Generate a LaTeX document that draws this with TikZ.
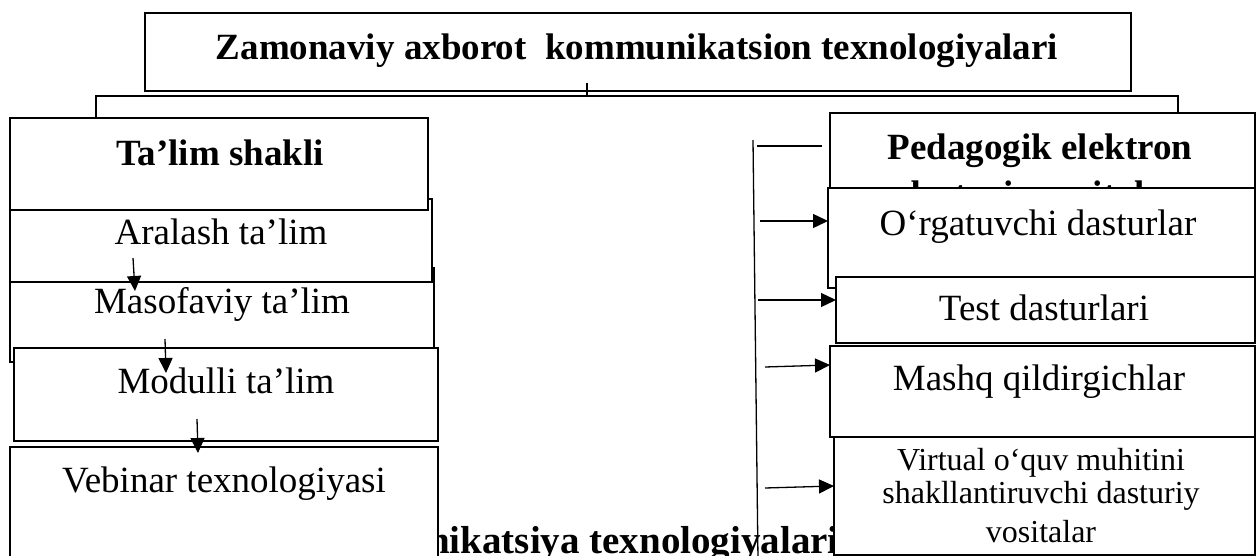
\documentclass[tikz,border=0pt]{standalone}
\usepackage{fontspec}
\setmainfont{Liberation Serif}
\usetikzlibrary{arrows.meta,calc}
\begin{document}
\begin{tikzpicture}[x=1pt,y=-1pt,
  box/.style={draw, fill=white, line width=1.6pt, rectangle, inner sep=0pt, outer sep=0pt, anchor=north west},
  big/.style={font=\fontsize{37}{44}\selectfont, inner sep=0pt, anchor=base},
  bigb/.style={font=\fontsize{37}{44}\selectfont\bfseries, inner sep=0pt, anchor=base},
  small/.style={font=\fontsize{32}{36}\selectfont, inner sep=0pt, anchor=base},
  conn/.style={line width=1.3pt},
  arr/.style={line width=1.3pt, -{Triangle[length=15pt,width=14pt]}}]
\useasboundingbox (0,0) rectangle (1257,556);
\clip (0,0) rectangle (1257,556);

% hidden background caption
\node[font=\fontsize{39}{44}\selectfont\bfseries, inner sep=0pt, anchor=base west] (bt) at (428,553) {nikatsiya texnologiyalari};

% top box
\node[box, minimum width=986pt, minimum height=78pt] (top) at (145,13) {};
\node[bigb] (toptxt) at (637,60) {Zamonaviy axborot~ kommunikatsion texnologiyalari};
\coordinate (L) at (96,96);
\coordinate (R) at (1178,96);
\coordinate (T0) at (587,83);
\coordinate (T) at (587,96);

% left stack
\node[box, minimum width=424pt, minimum height=94pt] (maso) at (10,268) {};
\node[big] (masotxt) at (222,313) {Masofaviy ta’lim};
\node[box, minimum width=422pt, minimum height=83pt] (aral) at (10,199) {};
\node[big] (araltxt) at (221,244) {Aralash ta’lim};
\node[box, minimum width=418pt, minimum height=92pt] (tal) at (10,118) {};
\node[bigb] (taltxt) at (220,166) {Ta’lim shakli};
\node[box, minimum width=424pt, minimum height=93pt] (modu) at (14,348) {};
\node[big] (modutxt) at (226,393) {Modulli ta’lim};
\node[box, minimum width=428pt, minimum height=130pt] (vebi) at (10,447) {};
\node[big] (vebitxt) at (224,492) {Vebinar texnologiyasi};

\coordinate (a1s) at (133,258); \coordinate (a1e) at (135,291);
\coordinate (a2s) at (165,339); \coordinate (a2e) at (166,373);
\coordinate (a3s) at (197,419); \coordinate (a3e) at (198,453);
\draw[arr] (a1s) -- (a1e);
\draw[arr] (a2s) -- (a2e);
\draw[arr] (a3s) -- (a3e);

% right stack
\node[box, minimum width=425pt, minimum height=140pt] (ped) at (830,113) {};
\node[bigb] (pedtxt1) at (1040,160) {Pedagogik elektron};
\node[bigb] (pedtxt2) at (1040,207) {dasturiy vositalar};
\node[box, minimum width=427pt, minimum height=100pt] (ort) at (828,188) {};
\node[big] (orttxt) at (1038,235) {O‘rgatuvchi dasturlar};
\node[box, minimum width=419pt, minimum height=66pt] (test) at (836,277) {};
\node[big] (testtxt) at (1044,320) {Test dasturlari};
\node[box, minimum width=421pt, minimum height=118pt] (virt) at (834,437) {};
\node[small] (v1) at (1041,470) {Virtual o‘quv muhitini};
\node[small] (v2) at (1041,503) {shakllantiruvchi dasturiy};
\node[small] (v3) at (1041,542) {vositalar};
\node[box, minimum width=425pt, minimum height=91pt] (mash) at (830,346) {};
\node[big] (mashtxt) at (1039,390) {Mashq qildirgichlar};

% connectors
\draw[conn] (tal.north west -| L) -- (L) -- (R) -- (ped.north west -| R);
\draw[conn] (T0) -- (T);
\coordinate (V0) at (753,140); \coordinate (V1) at (758,560);
\draw[conn] (V0) -- (V1);
\coordinate (h0) at (757,146); \coordinate (h1) at (822,146);
\draw[conn] (h0) -- (h1);
\coordinate (r1) at (760,221);
\coordinate (r2) at (758,300);
\coordinate (r3) at (765,367);
\coordinate (r4) at (765,488);
\draw[arr] (r1) -- (r1 -| ort.west);
\draw[arr] (r2) -- (r2 -| test.west);
\draw[arr] (r3) -- ([yshift=2pt]r3 -| mash.west);
\draw[arr] (r4) -- ([yshift=2pt]r4 -| virt.west);
\end{tikzpicture}
\end{document}
